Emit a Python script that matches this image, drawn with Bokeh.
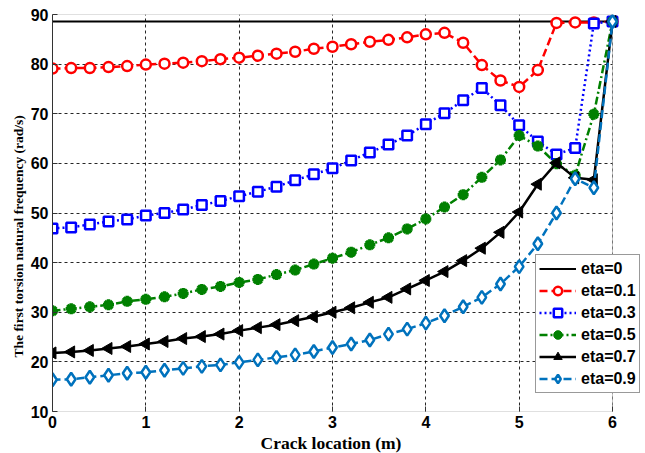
import numpy as np
from bokeh.plotting import figure
from bokeh.models import FixedTicker, Legend, LegendItem, Range1d, BoxAnnotation, Title
from bokeh.embed import file_html
from bokeh.resources import INLINE

crack_location = [0.0, 0.2, 0.4, 0.6, 0.8, 1.0, 1.2, 1.4, 1.6, 1.8, 2.0,
                  2.2, 2.4, 2.6, 2.8, 3.0, 3.2, 3.4, 3.6, 3.8, 4.0,
                  4.2, 4.4, 4.6, 4.8, 5.0, 5.2, 5.4, 5.6, 5.8, 6.0]

eta0_x = [0.0, 6.0]
eta0_y = [88.6, 88.6]

eta01 = [79.1, 79.2, 79.2, 79.4, 79.6, 79.9, 80.1, 80.3, 80.6, 81.0, 81.3,
         81.7, 82.1, 82.5, 83.1, 83.5, 84.0, 84.5, 84.9, 85.4, 86.0,
         86.3, 84.3, 79.8, 76.7, 75.4, 78.8, 88.3, 88.4, 88.4, 88.6]
eta03 = [46.9, 47.1, 47.7, 48.3, 48.7, 49.5, 50.0, 50.7, 51.6, 52.4, 53.4,
         54.3, 55.3, 56.6, 57.8, 59.0, 60.6, 62.2, 63.8, 65.6, 67.9,
         70.1, 72.7, 75.2, 71.7, 67.7, 64.4, 61.8, 63.1, 88.2, 88.6]
eta05 = [30.3, 30.7, 31.1, 31.5, 32.2, 32.6, 33.1, 33.8, 34.6, 35.2, 36.0,
         36.6, 37.6, 38.5, 39.7, 40.9, 42.1, 43.6, 45.0, 46.8, 48.8,
         51.2, 53.7, 57.2, 60.7, 65.6, 63.5, 59.9, 57.6, 69.9, 88.6]
eta07 = [21.8, 22.0, 22.3, 22.7, 23.1, 23.6, 24.1, 24.7, 25.1, 25.6, 26.3,
         26.9, 27.5, 28.3, 29.1, 30.0, 30.9, 32.0, 33.0, 34.7, 36.4,
         38.2, 40.4, 42.9, 46.1, 50.2, 55.8, 60.1, 57.1, 56.7, 88.6]
eta09 = [16.4, 16.5, 16.9, 17.3, 17.7, 17.9, 18.3, 18.7, 19.1, 19.4, 19.9,
         20.4, 20.9, 21.4, 22.1, 22.9, 23.6, 24.4, 25.6, 26.6, 27.8,
         29.3, 31.1, 33.0, 35.7, 39.2, 43.8, 50.0, 56.9, 55.1, 88.6]

labels = ["eta=0", "eta=0.1", "eta=0.3", "eta=0.5", "eta=0.7", "eta=0.9"]
x_ticks = [0, 1, 2, 3, 4, 5, 6]
y_ticks = [10, 20, 30, 40, 50, 60, 70, 80, 90]
x_label = "Crack location (m)"
y_label = "The first torsion natural frequency (rad/s)"

X_MIN, X_MAX, Y_MIN, Y_MAX = 0, 6, 10, 90
# frame is widened past x=6 so the legend may overhang the right border
p = figure(frame_width=593, frame_height=397, output_backend="svg",
           toolbar_location=None,
           x_range=Range1d(X_MIN, X_MAX * 593 / 560), y_range=Range1d(Y_MIN, Y_MAX),
           min_border_left=52, min_border_right=0, min_border_top=14,
           min_border_bottom=42)
p.background_fill_color = "white"
p.border_fill_color = "white"
p.outline_line_color = None

edge = "#333333"
for ax in (p.xaxis[0], p.yaxis[0]):
    ax.major_label_text_font = "Liberation Sans"
    ax.major_label_text_font_style = "bold"
    ax.major_label_text_font_size = "16px"
    ax.major_label_text_color = "black"
    ax.major_tick_line_color = edge
    ax.major_tick_in = 5
    ax.major_tick_out = 0
    ax.minor_tick_line_color = None
p.xaxis[0].axis_line_color = None
p.yaxis[0].axis_line_color = edge
p.xaxis[0].ticker = FixedTicker(ticks=x_ticks)
p.yaxis[0].ticker = FixedTicker(ticks=y_ticks)
p.xaxis[0].major_label_standoff = 4
p.yaxis[0].major_label_standoff = 4

p.add_layout(Title(text=x_label, align="left", offset=208, standoff=0,
                   text_font="Liberation Serif", text_font_style="bold",
                   text_font_size="17.5px", text_color="black"), "below")
p.add_layout(Title(text=y_label, align="left", offset=54, standoff=4,
                   text_font="Liberation Serif", text_font_style="bold",
                   text_font_size="13.5px", text_color="black"), "left")

p.xgrid.ticker = FixedTicker(ticks=x_ticks)
p.ygrid.ticker = FixedTicker(ticks=y_ticks)
for g in (p.xgrid[0], p.ygrid[0]):
    g.grid_line_color = "black"
    g.grid_line_dash = "3 3"
    g.grid_line_width = 1
    g.grid_line_alpha = 0.85

# white cover beyond x=6 (above grid, below data) and the axes box
p.add_layout(BoxAnnotation(left=X_MAX, fill_color="white", fill_alpha=1,
                           line_alpha=0, level="underlay"))
p.add_layout(BoxAnnotation(left=X_MIN, right=X_MAX, bottom=Y_MIN, top=Y_MAX,
                           fill_alpha=0, line_color=edge, line_width=1,
                           level="underlay"))

items = []
r0 = p.line(eta0_x, eta0_y, line_color="black", line_width=2)
items.append(LegendItem(label=labels[0], renderers=[r0]))

red = "#FF0000"
l1 = p.line(crack_location, eta01, line_color=red, line_width=2.5, line_dash="8 4")
m1 = p.scatter(crack_location, eta01, marker="circle", size=10, line_color=red,
               line_width=2.5, fill_color="white")
items.append(LegendItem(label=labels[1], renderers=[l1, m1]))

blue = "#0000FF"
l3 = p.line(crack_location, eta03, line_color=blue, line_width=2.5, line_dash="2 3")
m3 = p.scatter(crack_location, eta03, marker="square", size=9.5, line_color=blue,
               line_width=2.5, fill_color="white")
items.append(LegendItem(label=labels[2], renderers=[l3, m3]))

green = "#008000"
l5 = p.line(crack_location, eta05, line_color=green, line_width=2.5, line_dash="8 3 2 3")
m5 = p.scatter(crack_location, eta05, marker="asterisk", size=11, line_color=green,
               line_width=3.5)
m5b = p.scatter(crack_location, eta05, marker="circle", size=6, line_color=green,
                fill_color=green, line_width=1)
items.append(LegendItem(label=labels[3], renderers=[l5, m5, m5b]))

l7 = p.line(crack_location, eta07, line_color="black", line_width=2.5)
m7 = p.scatter(crack_location, eta07, marker="triangle", size=12, angle=np.pi / 2,
               line_color="black", fill_color="black", line_width=1)
items.append(LegendItem(label=labels[4], renderers=[l7, m7]))

lblue = "#0072BD"
l9 = p.line(crack_location, eta09, line_color=lblue, line_width=2.5, line_dash="8 4")
m9 = p.scatter(crack_location, eta09, marker="diamond", size=13, line_color=lblue,
               line_width=2.5, fill_color="white")
items.append(LegendItem(label=labels[5], renderers=[l9, m9]))

legend = Legend(items=items, location=(483, 18))
legend.label_text_font = "Liberation Sans"
legend.label_text_font_style = "bold"
legend.label_text_font_size = "16px"
legend.label_text_color = "black"
legend.glyph_width = 37
legend.glyph_height = 21
legend.label_height = 21
legend.label_standoff = 5
legend.spacing = 1
legend.padding = 3
legend.margin = 0
legend.border_line_color = edge
legend.border_line_width = 1
legend.background_fill_color = "white"
legend.background_fill_alpha = 1
p.add_layout(legend, "center")

open("out.html", "w").write(file_html(p, INLINE))
